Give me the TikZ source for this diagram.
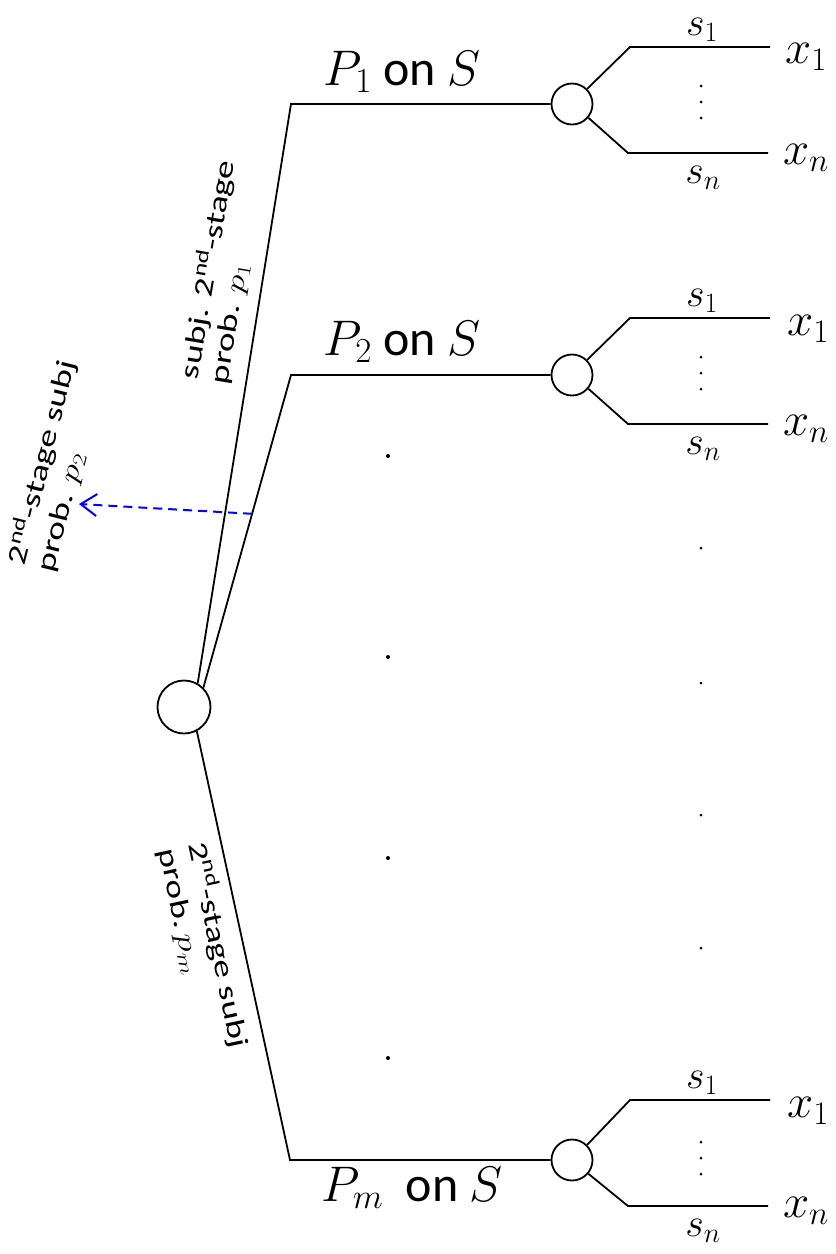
\RequirePackage{fix-cm}
\documentclass[tikz,border=0pt]{standalone}
\usepackage{fontspec}
\setmainfont{Carlito}
\usetikzlibrary{arrows.meta}
\begin{document}
\begin{tikzpicture}[x=1pt,y=-1pt, line width=1.8pt,
  chance/.style={circle, draw, fill=white, inner sep=0pt, minimum size=#1},
  lab/.style={font=\fontsize{50}{60}\selectfont, inner sep=0pt},
  slab/.style={font=\fontsize{40}{48}\selectfont, inner sep=0pt},
  xlab/.style={font=\fontsize{47}{56}\selectfont, inner sep=0pt},
  rlab/.style={font=\fontsize{27}{30}\selectfont, align=left, inner sep=0pt},
  dot/.style={circle, fill=black, inner sep=0pt, minimum size=#1},
  blu/.style={draw=blue, line width=2pt, dash pattern=on 9pt off 6pt, -{Straight Barb[length=16pt,width=22pt,line width=2pt]}}
]
\useasboundingbox (0,0) rectangle (836,1254);

% root and corners
\node[chance=53pt] (root) at (184,707) {};
\coordinate (k1) at (291,104);
\coordinate (k2) at (291,375);
\coordinate (km) at (290,1160);
\node[chance=41pt] (c1) at (572,104) {};
\node[chance=41pt] (c2) at (572,375) {};
\node[chance=41pt] (cm) at (572,1160) {};

\draw (root.60) -- (k1) -- (c1);
\draw (root.45) -- (k2) -- (c2);
\draw (root.-62) -- (km) -- (cm);

% branches top
\coordinate (u1) at (630,47);   \coordinate (e1) at (770,47);
\coordinate (l1) at (628,153);  \coordinate (f1) at (768,153);
\draw (c1.45) -- (u1) -- (e1);
\draw (c1.-40) -- (l1) -- (f1);
% branches middle
\coordinate (u2) at (630,318);  \coordinate (e2) at (770,318);
\coordinate (l2) at (628,424);  \coordinate (f2) at (768,424);
\draw (c2.45) -- (u2) -- (e2);
\draw (c2.-40) -- (l2) -- (f2);
% branches bottom
\coordinate (um) at (630,1100); \coordinate (em) at (770,1100);
\coordinate (lm) at (628,1206); \coordinate (fm) at (768,1206);
\draw (cm.45) -- (um) -- (em);
\draw (cm.-40) -- (lm) -- (fm);

% main labels
\node[lab] (t1) at (402,72) {$P_1$ on $S$};
\node[lab] (t2) at (402,342) {$P_2$ on $S$};
\node[lab] (tm) at (412,1188) {$P_m$\ \ on $S$};

% s and x labels
\node[slab] (s11) at (702,30) {$s_1$};
\node[slab] (s1n) at (703,178) {$s_n$};
\node[xlab] (x11) at (806,57) {$x_1$};
\node[xlab] (x1n) at (806,158) {$x_n$};
\node[slab] (s21) at (702,301) {$s_1$};
\node[slab] (s2n) at (703,449) {$s_n$};
\node[xlab] (x21) at (808,329) {$x_1$};
\node[xlab] (x2n) at (806,429) {$x_n$};
\node[slab] (sm1) at (702,1083) {$s_1$};
\node[slab] (smn) at (703,1231) {$s_n$};
\node[xlab] (xm1) at (808,1111) {$x_1$};
\node[xlab] (xmn) at (806,1211) {$x_n$};

% small vertical dots
\foreach \yy [count=\i] in {104,375,1160} {
  \node[dot=3pt] (va\i) at (701,\yy-18) {};
  \node[dot=3pt] (vb\i) at (701,\yy-2) {};
  \node[dot=3pt] (vc\i) at (701,\yy+14) {};
}
% middle column dots
\foreach \yy [count=\i] in {456,657,858,1058} \node[dot=4pt] (md\i) at (388,\yy) {};
% right column dots
\foreach \yy [count=\i] in {548,683,815,948} \node[dot=3pt] (rd\i) at (701,\yy) {};

% rotated labels
\node[rlab, rotate=80.5, xscale=1.38] (r1) at (222,272) {subj. 2\textsuperscript{nd}-stage\\prob. $p_1$};
\node[rlab, rotate=76, xscale=1.38] (r2) at (56,466) {2\textsuperscript{nd}-stage subj\\prob. $p_2$};
\node[rlab, rotate=-78, xscale=1.38] (r3) at (204,948) {2\textsuperscript{nd}-stage subj\\prob.\,$p_m$};

% blue dashed arrow
\path (root.45) -- (k2) coordinate[pos=0.556] (a2);
\coordinate (q2) at (79,504);
\draw[blu] (a2) -- (q2);
\end{tikzpicture}
\end{document}
